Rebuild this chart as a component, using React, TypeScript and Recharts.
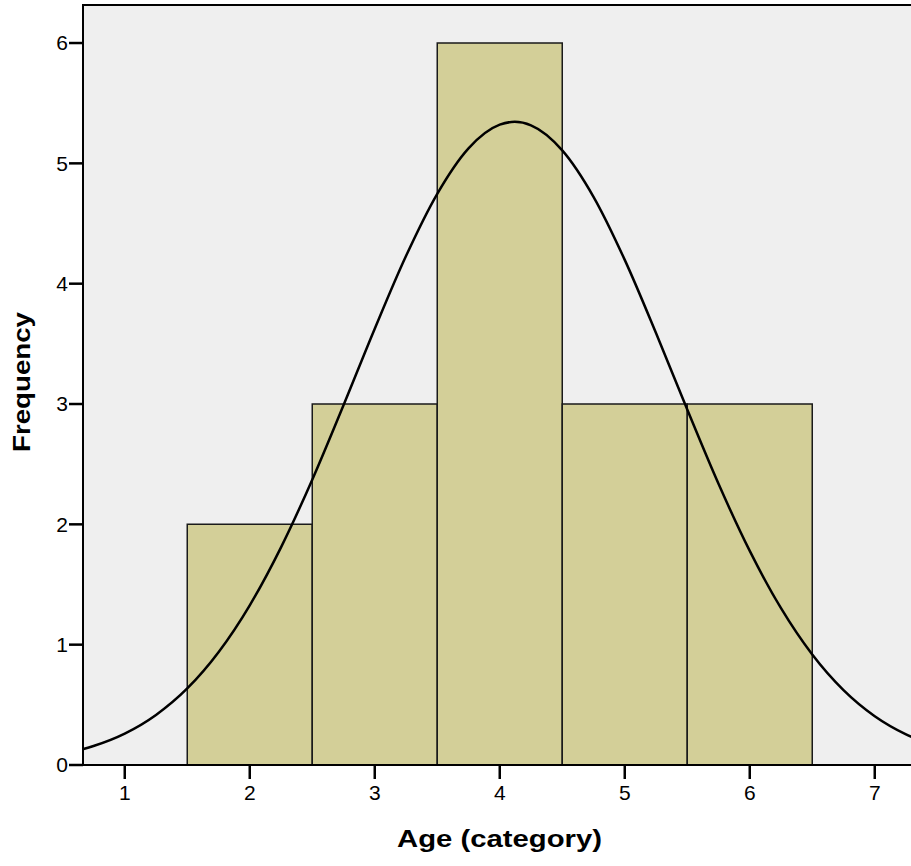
import React from "react";
import {
  ComposedChart,
  Line,
  XAxis,
  YAxis,
  ReferenceArea,
  Label,
} from "recharts";

// Histogram bins (Age category) and frequencies
const binStart = [1.5, 2.5, 3.5, 4.5, 5.5];
const binEnd = [2.5, 3.5, 4.5, 5.5, 6.5];
const counts = [2, 3, 6, 3, 3];

// Normal curve overlay
const curveX = [
  0.5, 0.67, 0.75, 1.0, 1.25, 1.5, 1.75, 2.0, 2.25, 2.5, 2.75, 3.0, 3.25, 3.5,
  3.75, 4.0, 4.12, 4.25, 4.5, 4.75, 5.0, 5.25, 5.5, 5.75, 6.0, 6.25, 6.5, 6.75,
  7.0, 7.25, 7.5,
];
const curveY = [
  0.09, 0.133, 0.158, 0.261, 0.416, 0.636, 0.937, 1.327, 1.809, 2.371, 2.99,
  3.626, 4.23, 4.747, 5.125, 5.322, 5.345, 5.316, 5.108, 4.722, 4.198, 3.59,
  2.954, 2.337, 1.779, 1.303, 0.918, 0.622, 0.405, 0.254, 0.153,
];

const xTicks = [1, 2, 3, 4, 5, 6, 7];
const yTicks = [0, 1, 2, 3, 4, 5, 6];
const xDomain = [0.666, 7.33];
const yDomain = [0, 6.316];

const curveData = curveX.map((x, i) => ({ x, y: curveY[i] }));

const FONT = "'Liberation Sans', Arial, Helvetica, sans-serif";

const XTitle = (props: any) => {
  const vb = props.viewBox;
  return (
    <text
      x={vb.x + vb.width / 2}
      y={vb.y + 82}
      textAnchor="middle"
      fontFamily={FONT}
      fontWeight="bold"
      fontSize={23}
      fill="#000"
      textLength={205}
      lengthAdjust="spacingAndGlyphs"
    >
      Age (category)
    </text>
  );
};

const YTitle = (props: any) => {
  const vb = props.viewBox;
  const cx = 30;
  const cy = vb.y + vb.height / 2 - 3;
  return (
    <text
      x={cx}
      y={cy}
      transform={`rotate(-90, ${cx}, ${cy})`}
      textAnchor="middle"
      fontFamily={FONT}
      fontWeight="bold"
      fontSize={23}
      fill="#000"
      textLength={140}
      lengthAdjust="spacingAndGlyphs"
    >
      Frequency
    </text>
  );
};

export default function App() {
  return (
    <div
      style={{
        position: "absolute",
        left: 0,
        top: 0,
        width: 911,
        height: 866,
        overflow: "hidden",
        background: "#fff",
      }}
    >
      <ComposedChart
        width={930}
        height={866}
        data={curveData}
        margin={{ top: 5, right: 14, left: 0, bottom: 0 }}
      >
        <ReferenceArea
          x1={xDomain[0]}
          x2={xDomain[1]}
          y1={yDomain[0]}
          y2={yDomain[1]}
          fill="#efefef"
          fillOpacity={1}
          stroke="#000"
          strokeWidth={2}
          ifOverflow="visible"
        />
        {counts.map((c, i) => (
          <ReferenceArea
            key={i}
            x1={binStart[i]}
            x2={binEnd[i]}
            y1={0}
            y2={c}
            fill="#d3cf98"
            fillOpacity={1}
            stroke="#1a1a1a"
            strokeWidth={1.5}
            ifOverflow="visible"
          />
        ))}
        <XAxis
          type="number"
          dataKey="x"
          domain={xDomain}
          allowDataOverflow
          ticks={xTicks}
          height={101}
          tickSize={14}
          tickMargin={6}
          axisLine={{ stroke: "#000", strokeWidth: 2 }}
          tickLine={{ stroke: "#000", strokeWidth: 2.5 }}
          tick={{ fill: "#000", fontSize: 21, fontFamily: FONT }}
        >
          <Label content={XTitle} />
        </XAxis>
        <YAxis
          type="number"
          domain={yDomain}
          allowDataOverflow
          ticks={yTicks}
          width={83}
          tickSize={14}
          tickMargin={1}
          axisLine={{ stroke: "#000", strokeWidth: 2 }}
          tickLine={{ stroke: "#000", strokeWidth: 2.5 }}
          tick={{ fill: "#000", fontSize: 21, fontFamily: FONT }}
        >
          <Label content={YTitle} />
        </YAxis>
        <Line
          type="monotone"
          dataKey="y"
          stroke="#000"
          strokeWidth={2.5}
          dot={false}
          activeDot={false}
          isAnimationActive={false}
        />
      </ComposedChart>
    </div>
  );
}
